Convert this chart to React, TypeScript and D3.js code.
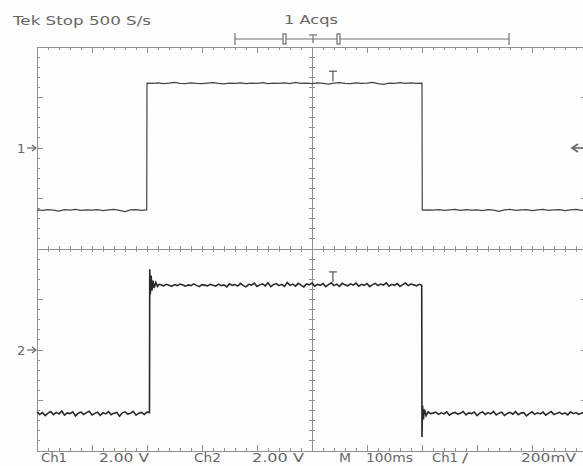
import React from "react";
import * as d3 from "d3";

// ---- Data (time in ms, volts) ----
const TIME_DOMAIN = [0, 1000];
const DIV_DOMAIN = [-4, 4];
const VOLTS_PER_DIV = 2;
const CH1_POSITION = 2; // divisions
const CH2_POSITION = -2;

// Channel 1: 10 ms sample spacing
const CH1_LOW_A = [-2.45, -2.47, -2.44, -2.46, -2.5, -2.44, -2.46, -2.43, -2.47, -2.45, -2.46, -2.44, -2.48, -2.45, -2.43, -2.47, -2.52, -2.45, -2.44, -2.47];
const CH1_RISE: [number, number][] = [[199.5, -2.45], [200, 2.57]];
const CH1_HIGH = [2.56, 2.58, 2.55, 2.57, 2.6, 2.56, 2.55, 2.58, 2.56, 2.55, 2.57, 2.59, 2.56, 2.54, 2.57, 2.56, 2.58, 2.55, 2.57, 2.56, 2.59, 2.55, 2.57, 2.56, 2.58, 2.55, 2.6, 2.56, 2.57, 2.55, 2.58, 2.56, 2.53, 2.57, 2.59, 2.56, 2.55, 2.58, 2.56, 2.57, 2.6, 2.55, 2.52, 2.57, 2.56, 2.59, 2.56, 2.58, 2.56];
const CH1_FALL: [number, number][] = [[700, 2.57], [700.5, -2.46]];
const CH1_LOW_B = [-2.45, -2.46, -2.44, -2.47, -2.45, -2.43, -2.47, -2.44, -2.46, -2.45, -2.48, -2.44, -2.46, -2.51, -2.45, -2.43, -2.47, -2.45, -2.44, -2.48, -2.45, -2.43, -2.47, -2.45, -2.44, -2.48, -2.45, -2.43, -2.47, -2.44];

// Channel 2: 5 ms sample spacing
const CH2_LOW_A = [-2.45, -2.55, -2.48, -2.6, -2.5, -2.44, -2.56, -2.47, -2.53, -2.42, -2.58, -2.49, -2.52, -2.45, -2.61, -2.5, -2.46, -2.55, -2.48, -2.43, -2.57, -2.51, -2.46, -2.59, -2.48, -2.53, -2.44, -2.56, -2.5, -2.47, -2.62, -2.49, -2.45, -2.54, -2.51, -2.43, -2.58, -2.5, -2.47, -2.55, -2.46];
const CH2_RISE: [number, number][] = [[204.5, -2.48], [205, 3.2], [206, 2.2], [207.5, 2.95], [209, 2.35], [211, 2.75], [213, 2.45], [216, 2.68], [219, 2.52], [222, 2.6]];
const CH2_HIGH = [
  2.58, 2.54, 2.6, 2.56, 2.52, 2.59, 2.55, 2.61, 2.57, 2.53,
  2.58, 2.55, 2.62, 2.56, 2.51, 2.59, 2.57, 2.54, 2.6, 2.56,
  2.53, 2.61, 2.55, 2.58, 2.5, 2.62, 2.56, 2.59, 2.53, 2.64,
  2.55, 2.5, 2.6, 2.57, 2.65, 2.52, 2.58, 2.62, 2.54, 2.66,
  2.51, 2.59, 2.63, 2.55, 2.6, 2.52, 2.67, 2.56, 2.61, 2.53,
  2.64, 2.57, 2.5, 2.62, 2.58, 2.65, 2.53, 2.6, 2.56, 2.63,
  2.51, 2.59, 2.66, 2.55, 2.61, 2.52, 2.64, 2.58, 2.54, 2.62,
  2.57, 2.65, 2.53, 2.6, 2.56, 2.63, 2.51, 2.59, 2.64, 2.55,
  2.61, 2.57, 2.66, 2.53, 2.6, 2.56, 2.63, 2.52, 2.59, 2.65,
  2.55, 2.61, 2.58, 2.54, 2.6,
];
const CH2_FALL: [number, number][] = [[699.5, 2.56], [700, -3.45], [701, -2.2], [702.5, -2.75], [704.5, -2.35], [707.5, -2.6], [711, -2.45], [715, -2.52]];
const CH2_LOW_B = [
  -2.5, -2.46, -2.55, -2.49, -2.53, -2.45, -2.58, -2.5, -2.47, -2.54,
  -2.51, -2.44, -2.57, -2.49, -2.52, -2.46, -2.6, -2.5, -2.45, -2.55,
  -2.48, -2.53, -2.43, -2.57, -2.5, -2.46, -2.59, -2.51, -2.47, -2.54,
  -2.44, -2.56, -2.5, -2.48, -2.61, -2.52, -2.45, -2.55, -2.49, -2.53,
  -2.46, -2.58, -2.5, -2.44, -2.56, -2.51, -2.47, -2.54, -2.49, -2.57,
  -2.45, -2.52, -2.48, -2.55, -2.5, -2.46, -2.53,
];

const TRIGGER_MARK_TIME = 538;
const TOP_LABELS = ["Tek Stop  500 S/s", "1 Acqs"];
const BOTTOM_LABELS = ["Ch1", "2.00 V", "Ch2", "2.00 V", "M", "100ms", "Ch1", "/", "200mV"];

function sampled(values: number[], start: number, step: number): [number, number][] {
  return values.map((v, i) => [start + i * step, v]);
}

const ch1Points: [number, number][] = [
  ...sampled(CH1_LOW_A, 0, 10),
  ...CH1_RISE,
  ...sampled(CH1_HIGH, 210, 10),
  ...CH1_FALL,
  ...sampled(CH1_LOW_B, 710, 10),
];
const ch2Points: [number, number][] = [
  ...sampled(CH2_LOW_A, 0, 5),
  ...CH2_RISE,
  ...sampled(CH2_HIGH, 225, 5),
  ...CH2_FALL,
  ...sampled(CH2_LOW_B, 720, 5),
];

const W = 583;
const H = 466;
const X0 = 37, X1 = 587, Y0 = 47, Y1 = 451;

export default function App() {
  const x = d3.scaleLinear().domain(TIME_DOMAIN).range([X0, X1]);
  const yDiv = d3.scaleLinear().domain(DIV_DOMAIN).range([Y1, Y0]);
  const yCh = (pos: number) => (v: number) => yDiv(pos + v / VOLTS_PER_DIV);
  const y1 = yCh(CH1_POSITION);
  const y2 = yCh(CH2_POSITION);

  const line1 = d3.line<[number, number]>().x((d) => x(d[0])).y((d) => y1(d[1]));
  const line2 = d3.line<[number, number]>().x((d) => x(d[0])).y((d) => y2(d[1]));

  const gridColor = "#909090";
  const textColor = "#666";
  const font = "'DejaVu Sans', sans-serif";

  const xMinor = d3.range(0, 1000.001, 20);
  const yMinor = d3.range(-4, 4.001, 0.2);
  const cx = x(500);
  const cy = yDiv(0);

  const ticks: JSX.Element[] = [];
  xMinor.forEach((t, i) => {
    const px = x(t);
    const major = Math.abs(t % 100) < 0.01;
    const len = major ? 6 : 3;
    ticks.push(<line key={`xt${i}`} x1={px} x2={px} y1={Y0} y2={Y0 + len} />);
    ticks.push(<line key={`xb${i}`} x1={px} x2={px} y1={Y1} y2={Y1 - len} />);
    ticks.push(<line key={`xc${i}`} x1={px} x2={px} y1={cy - 3} y2={cy + 3} />);
  });
  yMinor.forEach((d, i) => {
    const py = yDiv(d);
    const major = Math.abs(d - Math.round(d)) < 0.01;
    const len = major ? 6 : 3;
    ticks.push(<line key={`yl${i}`} x1={X0} x2={X0 + len} y1={py} y2={py} />);
    ticks.push(<line key={`yr${i}`} x1={X1} x2={X1 - len} y1={py} y2={py} />);
    ticks.push(<line key={`yc${i}`} x1={cx - 3} x2={cx + 3} y1={py} y2={py} />);
  });

  const tx = x(TRIGGER_MARK_TIME);
  const ch1High = y1(d3.mean(CH1_HIGH) as number);
  const ch2High = y2(d3.mean(CH2_HIGH) as number);
  const lvl = yDiv(CH1_POSITION);

  const bottomPos = [
    { x: 41, len: 26 },
    { x: 99, len: 50 },
    { x: 194, len: 27 },
    { x: 252, len: 52 },
    { x: 339, len: 12 },
    { x: 366, len: 47 },
    { x: 432, len: 26 },
    { x: 462, len: 6 },
    { x: 521, len: 55 },
  ];

  return (
    <svg
      width={W}
      height={H}
      style={{ position: "absolute", left: 0, top: 0, background: "#fdfdfd" }}
    >
      <rect x={0} y={0} width={W} height={H} fill="#fdfdfd" />
      {/* top labels */}
      <text x={13} y={25} fontFamily={font} fontSize={13} fill={textColor} textLength={138} lengthAdjust="spacingAndGlyphs">
        {TOP_LABELS[0]}
      </text>
      <text x={284} y={24} fontFamily={font} fontSize={13} fill={textColor} textLength={54} lengthAdjust="spacingAndGlyphs">
        {TOP_LABELS[1]}
      </text>
      {/* record bracket */}
      <g stroke="#707070" strokeWidth={1.2} fill="none">
        <line x1={235} x2={509} y1={39} y2={39} />
        <line x1={235} x2={235} y1={33} y2={45} />
        <line x1={509} x2={509} y1={33} y2={45} />
        <rect x={283} y={34} width={3} height={10} fill="#fdfdfd" />
        <rect x={337} y={34} width={3} height={10} fill="#fdfdfd" />
        <line x1={309} x2={317} y1={35} y2={35} />
        <line x1={313} x2={313} y1={35} y2={43} />
      </g>

      {/* graticule */}
      <g stroke={gridColor} strokeWidth={1} fill="none" shapeRendering="crispEdges">
        <rect x={X0} y={Y0} width={X1 - X0} height={Y1 - Y0} />
        <line x1={cx} x2={cx} y1={Y0} y2={Y1} />
        <line x1={X0} x2={X1} y1={cy} y2={cy} />
        {ticks}
      </g>

      {/* traces */}
      <path d={line1(ch1Points) || ""} fill="none" stroke="#444" strokeWidth={1.2} />
      <path d={line2(ch2Points) || ""} fill="none" stroke="#2a2a2a" strokeWidth={1.6} />

      {/* trigger position T markers */}
      <g stroke="#555" strokeWidth={1.2}>
        <line x1={tx - 4} x2={tx + 4} y1={ch1High - 12} y2={ch1High - 12} />
        <line x1={tx} x2={tx} y1={ch1High - 12} y2={ch1High - 2} />
        <line x1={tx - 4} x2={tx + 4} y1={ch2High - 13} y2={ch2High - 13} />
        <line x1={tx} x2={tx} y1={ch2High - 13} y2={ch2High - 3} />
      </g>

      {/* channel ground markers */}
      <g fill={textColor} fontFamily={font} fontSize={13}>
        <text x={17} y={yDiv(CH1_POSITION) + 5}>1</text>
        <text x={17} y={yDiv(CH2_POSITION) + 5}>2</text>
      </g>
      <g stroke="#666" strokeWidth={1.2} fill="none">
        {[CH1_POSITION, CH2_POSITION].map((p) => {
          const py = yDiv(p);
          return (
            <g key={p}>
              <line x1={27} x2={36} y1={py} y2={py} />
              <path d={`M32,${py - 3} L36,${py} L32,${py + 3}`} />
            </g>
          );
        })}
        {/* trigger level marker */}
        <path d={`M578,${lvl - 4} L572,${lvl} L578,${lvl + 4}`} strokeWidth={1.6} />
        <line x1={573} x2={583} y1={lvl} y2={lvl} strokeWidth={1.6} />
      </g>

      {/* bottom readout */}
      <g fontFamily={font} fontSize={13} fill={textColor}>
        {BOTTOM_LABELS.map((s, i) => (
          <text key={i} x={bottomPos[i].x} y={462} textLength={bottomPos[i].len} lengthAdjust="spacingAndGlyphs">
            {s}
          </text>
        ))}
      </g>
    </svg>
  );
}
